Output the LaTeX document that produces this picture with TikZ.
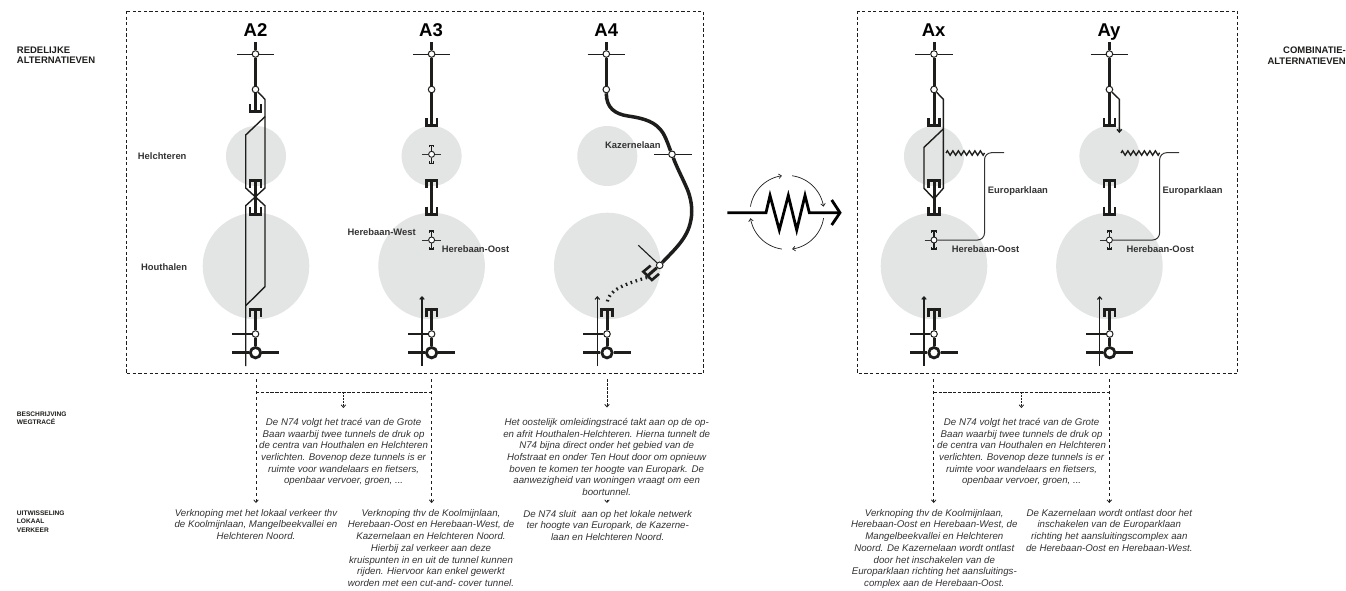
\documentclass[tikz,border=0pt]{standalone}
\usepackage{fontspec}
\setmainfont{Liberation Sans}
\usetikzlibrary{arrows.meta,decorations.pathmorphing}
\definecolor{zone}{HTML}{E3E4E4}
\definecolor{ink}{HTML}{1D1D1B}
\definecolor{soft}{HTML}{333333}
\tikzset{
  zonecircle/.style={fill=zone,draw=none,circle,inner sep=0pt,minimum size=#1},
  jn/.style={circle,draw=ink,fill=white,line width=1pt,inner sep=0pt,minimum size=6.6pt},
  bigjn/.style={circle,draw=ink,fill=white,line width=2.8pt,inner sep=0pt,minimum size=10.4pt},
  minijn/.style={circle,draw=ink,fill=white,line width=0.9pt,inner sep=0pt,minimum size=6pt},
  road/.style={draw=ink,line width=3pt},
  thick road/.style={draw=ink,line width=3.5pt,line cap=round},
  cross/.style={draw=ink,line width=0.95pt},
  thinroad/.style={draw=ink,line width=1.4pt,miter limit=10},
  local/.style={draw=soft,line width=1pt},
  tip/.style={-{Straight Barb[length=2.6pt,width=4.6pt]}},
  portalline/.style={draw=ink,line width=2.6pt,miter limit=10},
  miniline/.style={draw=ink,line width=1.1pt},
  frame/.style={draw=ink,line width=0.9pt,dash pattern=on 3.2pt off 2.4pt},
  guide/.style={draw=ink,line width=0.8pt,dash pattern=on 3pt off 3pt},
  guidebar/.style={draw=ink,line width=1pt,dash pattern=on 3.4pt off 1.4pt},
  title/.style={font=\fontsize{18.5}{18.5}\selectfont\bfseries,text=black,inner sep=0pt,anchor=base},
  place/.style={font=\fontsize{9.4}{9.4}\selectfont\bfseries,text=soft,inner sep=0pt,anchor=west},
  side/.style={font=\fontsize{9.5}{10.2}\selectfont\bfseries,text=ink,inner sep=0pt,align=left,anchor=north west},
  sideright/.style={font=\fontsize{9.5}{10.2}\selectfont\bfseries,text=ink,inner sep=0pt,align=right,anchor=north east},
  sidesmall/.style={font=\fontsize{6.6}{8.6}\selectfont\bfseries,text=ink,inner sep=0pt,align=left,anchor=north west},
  desc/.style={font=\fontsize{9.7}{11.7}\selectfont\itshape,text=soft,inner sep=0pt,align=center,anchor=north},
  portalT/.pic={\draw[portalline] (-5.4,9)--(-5.4,1.3)--(5.4,1.3)--(5.4,9);},
  portalU/.pic={\draw[portalline] (-5.4,-9)--(-5.4,-1.3)--(5.4,-1.3)--(5.4,-9);},
  miniT/.pic={\draw[miniline] (-2.2,2.5)--(-2.2,0.5)--(2.2,0.5)--(2.2,2.5);},
  miniU/.pic={\draw[miniline] (-2.2,-2.5)--(-2.2,-0.5)--(2.2,-0.5)--(2.2,-2.5);}
}
% upper end of a column: #1 name, #2 x
\newcommand\TopPart[2]{%
  \coordinate (#1top) at (#2,42);
  \node[jn] (#1a) at (#2,54) {};
  \node[jn] (#1b) at (#2,89.5) {};
  \draw[road] (#1top) -- (#1a);
  \draw[road] (#1a) -- (#1b);
  \draw[cross] (#2-18.7,54) -- (#1a);
  \draw[cross] (#1a) -- (#2+18.7,54);
}
% lower end of a column
\newcommand\BottomPart[2]{%
  \node[jn] (#1c) at (#2,334) {};
  \node[bigjn] (#1d) at (#2,352.7) {};
  \coordinate (#1t) at (#2,308);
  \pic at (#1t) {portalT};
  \draw[road] (#1t) -- (#1c);
  \draw[road] (#1c) -- (#1d);
  \draw[cross,line width=1.1pt] (#2-23.6,334) -- (#1c);
  \draw[road] (#2-23.6,352.7) -- (#1d);
  \draw[road] (#1d) -- (#2+23.6,352.7);
}
% short tunnel between the two zones
\newcommand\MidTunnel[2]{%
  \coordinate (#1mt) at (#2,179);
  \coordinate (#1mu) at (#2,215.8);
  \pic at (#1mt) {portalT};
  \pic at (#1mu) {portalU};
  \draw[road] (#1mt) -- (#1mu);
}
% small interchange in a zone
\newcommand\MiniJn[3]{%
  \node[minijn] (#1) at (#2,#3) {};
  \coordinate (#1up) at (#2,#3-9.5);
  \coordinate (#1dn) at (#2,#3+9.5);
  \pic at (#1up) {miniT};
  \pic at (#1dn) {miniU};
  \draw[draw=ink,line width=1.5pt] (#1up) -- (#1);
  \draw[draw=ink,line width=1.5pt] (#1) -- (#1dn);
  \draw[local] (#2-9.5,#3) -- (#1);
}
\begin{document}
\begin{tikzpicture}[x=1pt,y=-1pt]
\useasboundingbox (0,0) rectangle (1346,590);

% zones
\node[zonecircle=60pt] (z2a) at (256,156) {};
\node[zonecircle=106.6pt] (z2b) at (256,266) {};
\node[zonecircle=60pt] (z3a) at (431.6,156) {};
\node[zonecircle=106.6pt] (z3b) at (431.6,266) {};
\node[zonecircle=60pt] (z4a) at (607.3,156) {};
\node[zonecircle=106.6pt] (z4b) at (607.3,266) {};
\node[zonecircle=60pt] (zxa) at (934,156) {};
\node[zonecircle=106.6pt] (zxb) at (934,266) {};
\node[zonecircle=60pt] (zya) at (1109.4,156) {};
\node[zonecircle=106.6pt] (zyb) at (1109.4,266) {};

% frames
\coordinate (f1a) at (126,11);
\coordinate (f1b) at (703.3,373.8);
\coordinate (f2a) at (857.5,11);
\coordinate (f2b) at (1237.7,373.8);
\draw[frame] (f1a) rectangle (f1b);
\draw[frame] (f2a) rectangle (f2b);

% titles
\node[title] (tA2) at (255.5,36) {A2};
\node[title] (tA3) at (431,36) {A3};
\node[title] (tA4) at (606.3,36) {A4};
\node[title] (tAx) at (933.7,36) {Ax};
\node[title] (tAy) at (1109,36) {Ay};

% ---- A2
\TopPart{p}{255.5}
\coordinate (pu) at (255.5,113);
\pic at (pu) {portalU};
\draw[road] (pb) -- (pu);
\MidTunnel{p}{255.5}
\BottomPart{p}{255.5}
\coordinate (p1) at (265,99.3);
\coordinate (p2) at (265,116.7);
\coordinate (p3) at (245.7,135);
\coordinate (p4) at (245.7,188);
\coordinate (p5) at (265,205.7);
\coordinate (p6) at (265,286.7);
\coordinate (p7) at (245.7,305.7);
\coordinate (p8) at (245.7,366);
\coordinate (p9) at (265,188);
\coordinate (p10) at (245.7,205.7);
\draw[thinroad] (pb) -- (p1) -- (p2) -- (p3) -- (p4) -- (p5) -- (p6) -- (p7) -- (p8);
\draw[thinroad] (p2) -- (p9) -- (p10) -- (p7);

% ---- A3
\TopPart{q}{431.6}
\coordinate (qu) at (431.6,127);
\pic at (qu) {portalU};
\draw[road] (qb) -- (qu);
\MidTunnel{q}{431.6}
\BottomPart{q}{431.6}
\MiniJn{qm}{431.6}{154.3}
\draw[local] (qm) -- (441,154.3);
\MiniJn{qn}{431.6}{240}
\draw[local] (qn) -- (441,240);
\coordinate (qf) at (422,366);
\coordinate (qg) at (422,296);
\draw[thinroad,line width=1.1pt,tip] (qf) -- (qg);

% ---- A4
\TopPart{r}{606.3}
\node[jn] (rc2) at (672,154.3) {};
\node[jn] (rd2) at (659.7,265.3) {};
\draw[cross] (654.3,154.3) -- (rc2);
\draw[cross] (rc2) -- (691.7,154.3);
\coordinate (rk) at (638.3,245.3);
\draw[draw=ink,line width=1.1pt] (rk) -- (rd2);
\draw[thick road,line cap=butt] (rb) .. controls (606.3,108) and (615,114) .. (628,116)
   .. controls (645,118.5) and (656,122) .. (663,133) .. controls (667,140) and (669,147) .. (rc2);
\draw[thick road,line cap=butt] (rc2) .. controls (677,168) and (684,181) .. (688,191)
   .. controls (692,202) and (693,213) .. (690,224) .. controls (686,240) and (672,252) .. (rd2);
\coordinate (rs) at (647.6,275.8);
\draw[road] (rd2) -- (rs);
\draw[portalline] (650.6,265.6) -- (643.3,271.7) -- (651.9,280) -- (659,273.9);
\draw[draw=ink,line width=3.2pt,dash pattern=on 1.6pt off 3.6pt] (647,277.5) .. controls (625,284) and (608,290) .. (607,303);
\BottomPart{r}{607}
\coordinate (rf) at (597.3,366);
\coordinate (rg) at (597.3,296);
\draw[thinroad,line width=1.1pt,tip] (rf) -- (rg);

% ---- Ax
\TopPart{x}{934}
\coordinate (xu) at (934,127);
\pic at (xu) {portalU};
\draw[road] (xb) -- (xu);
\MidTunnel{x}{934}
\BottomPart{x}{934}
\coordinate (x1) at (943.3,99.3);
\coordinate (x2) at (943.3,188.3);
\coordinate (x3) at (934.8,198);
\coordinate (x4) at (943.3,129);
\coordinate (x5) at (924,147.3);
\coordinate (x6) at (924,188.3);
\coordinate (x7) at (933.2,198);
\draw[thinroad] (xb) -- (x1) -- (x2) -- (x3);
\draw[thinroad] (x4) -- (x5) -- (x6) -- (x7);
\MiniJn{xn}{934}{240}
\coordinate (xz1) at (946,153);
\coordinate (xz2) at (984.5,153);
\coordinate (xe) at (1004,152.7);
\draw[draw=ink,line width=1.35pt,decorate,decoration={zigzag,segment length=5.5pt,amplitude=2.2pt}] (xz1) -- (xz2);
\draw[local,rounded corners=7pt] (xe) -- (984.5,152.7) -- (984.5,240) -- (xn);
\coordinate (xf) at (924,366);
\coordinate (xg) at (924,296);
\draw[thinroad,line width=1.1pt,tip] (xf) -- (xg);

% ---- Ay
\TopPart{y}{1109.4}
\coordinate (yu) at (1109.4,127);
\pic at (yu) {portalU};
\draw[road] (yb) -- (yu);
\MidTunnel{y}{1109.4}
\BottomPart{y}{1109.7}
\coordinate (y1) at (1119.3,99.3);
\coordinate (y2) at (1119.3,133);
\draw[thinroad,tip] (yb) -- (y1) -- (y2);
\MiniJn{yn}{1109.4}{240}
\coordinate (yz1) at (1121,153);
\coordinate (yz2) at (1159.6,153);
\coordinate (ye) at (1179,152.7);
\draw[draw=ink,line width=1.35pt,decorate,decoration={zigzag,segment length=5.5pt,amplitude=2.2pt}] (yz1) -- (yz2);
\draw[local,rounded corners=7pt] (ye) -- (1159.6,152.7) -- (1159.6,240) -- (yn);
\coordinate (yf) at (1099.7,366);
\coordinate (yg) at (1099.7,296);
\draw[thinroad,line width=1.1pt,tip] (yf) -- (yg);

% ---- resistor symbol
\coordinate (s0) at (727.3,212.7);
\coordinate (s9) at (840,212.7);
\draw[draw=black,line width=2.8pt,miter limit=6] (s0) -- (766,212.7) -- (770,195.5) -- (779.3,230) -- (788.3,195.5) -- (796.7,230) -- (805,195.5) -- (809.3,212.7) -- (s9);
\draw[draw=black,line width=2.8pt] (831.7,200) -- (s9) -- (831.7,225);
\foreach \a/\b in {171/98,82/9,-9/-82,-98/-171}{
  \draw[draw=ink,line width=0.7pt,tip,domain=\a:\b,samples=30,variable=\t,smooth] plot ({787+37*cos(\t)},{212.4-37*sin(\t)});
}

% ---- place names
\node[place] (lh1) at (137.7,155.7) {Helchteren};
\node[place] (lh2) at (141,266.7) {Houthalen};
\node[place] (lh3) at (347.3,231.7) {Herebaan-West};
\node[place] (lh4) at (441.7,249) {Herebaan-Oost};
\node[place] (lh5) at (605,145) {Kazernelaan};
\node[place] (lh6) at (987.7,191) {Europarklaan};
\node[place] (lh7) at (951.7,249) {Herebaan-Oost};
\node[place] (lh8) at (1162.3,191) {Europarklaan};
\node[place] (lh9) at (1126.3,249) {Herebaan-Oost};

% ---- side labels
\node[side] (s1) at (16.7,47) {REDELIJKE\\ALTERNATIEVEN};
\node[sideright] (s2) at (1346,47) {COMBINATIE-\\ALTERNATIEVEN};
\node[sidesmall] (s3) at (16.7,411.5) {BESCHRIJVING\\WEGTRACÉ};
\node[sidesmall] (s4) at (16.7,510.5) {UITWISSELING\\LOKAAL\\VERKEER};

% ---- guides
\coordinate (g1a) at (256,379);
\coordinate (g1b) at (256,503);
\coordinate (g2a) at (431.6,379);
\coordinate (g2b) at (431.6,503);
\coordinate (g3a) at (343.4,392.3);
\coordinate (g3b) at (343.4,408);
\coordinate (g4a) at (256,392.3);
\coordinate (g5a) at (431.6,392.3);
\draw[guide,tip] (g1a) -- (g1b);
\draw[guide,tip] (g2a) -- (g2b);
\draw[guidebar] (g4a) -- (g5a);
\draw[guide,dash pattern=on 2pt off 1pt,tip] (g3a) -- (g3b);
\coordinate (g6a) at (607,379);
\coordinate (g6b) at (607,407.5);
\draw[guide,dash pattern=on 3pt off 1pt,tip] (g6a) -- (g6b);
\coordinate (g7a) at (607,499.5);
\coordinate (g7b) at (607,503);
\draw[draw=ink,line width=0.8pt,tip] (g7a) -- (g7b);
\coordinate (h1a) at (933.7,379);
\coordinate (h1b) at (933.7,503);
\coordinate (h2a) at (1109.3,379);
\coordinate (h2b) at (1109.3,503);
\coordinate (h3a) at (1021.4,392.3);
\coordinate (h3b) at (1021.4,408);
\coordinate (h4a) at (933.7,392.3);
\coordinate (h5a) at (1109.3,392.3);
\draw[guide,tip] (h1a) -- (h1b);
\draw[guide,tip] (h2a) -- (h2b);
\draw[guidebar] (h4a) -- (h5a);
\draw[guide,dash pattern=on 2pt off 1pt,tip] (h3a) -- (h3b);

% ---- descriptions
\node[desc] (d1) at (343.6,418) {De N74 volgt het tracé van de Grote\\Baan waarbij twee tunnels de druk op\\de centra van Houthalen en Helchteren\\verlichten. Bovenop deze tunnels is er\\ruimte voor wandelaars en fietsers,\\openbaar vervoer, groen, ...};
\node[desc] (d2) at (606.7,418) {Het oostelijk omleidingstracé takt aan op de op-\\en afrit Houthalen-Helchteren. Hierna tunnelt de\\N74 bijna direct onder het gebied van de\\Hofstraat en onder Ten Hout door om opnieuw\\boven te komen ter hoogte van Europark. De\\aanwezigheid van woningen vraagt om een\\boortunnel.};
\node[desc] (d3) at (1021.6,418) {De N74 volgt het tracé van de Grote\\Baan waarbij twee tunnels de druk op\\de centra van Houthalen en Helchteren\\verlichten. Bovenop deze tunnels is er\\ruimte voor wandelaars en fietsers,\\openbaar vervoer, groen, ...};
\node[desc] (e1) at (256,509) {Verknoping met het lokaal verkeer thv\\de Koolmijnlaan, Mangelbeekvallei en\\Helchteren Noord.};
\node[desc] (e2) at (431,509) {Verknoping thv de Koolmijnlaan,\\Herebaan-Oost en Herebaan-West, de\\Kazernelaan en Helchteren Noord.\\Hierbij zal verkeer aan deze\\kruispunten in en uit de tunnel kunnen\\rijden. Hiervoor kan enkel gewerkt\\worden met een cut-and- cover tunnel.};
\node[desc] (e3) at (607.7,510) {De N74 sluit\ \ aan op het lokale netwerk\\ter hoogte van Europark, de Kazerne-\\laan en Helchteren Noord.};
\node[desc] (e4) at (934.3,509) {Verknoping thv de Koolmijnlaan,\\Herebaan-Oost en Herebaan-West, de\\Mangelbeekvallei en Helchteren\\Noord. De Kazernelaan wordt ontlast\\door het inschakelen van de\\Europarklaan richting het aansluitings-\\complex aan de Herebaan-Oost.};
\node[desc] (e5) at (1109.3,509) {De Kazernelaan wordt ontlast door het\\inschakelen van de Europarklaan\\richting het aansluitingscomplex aan\\de Herebaan-Oost en Herebaan-West.};
\end{tikzpicture}
\end{document}
